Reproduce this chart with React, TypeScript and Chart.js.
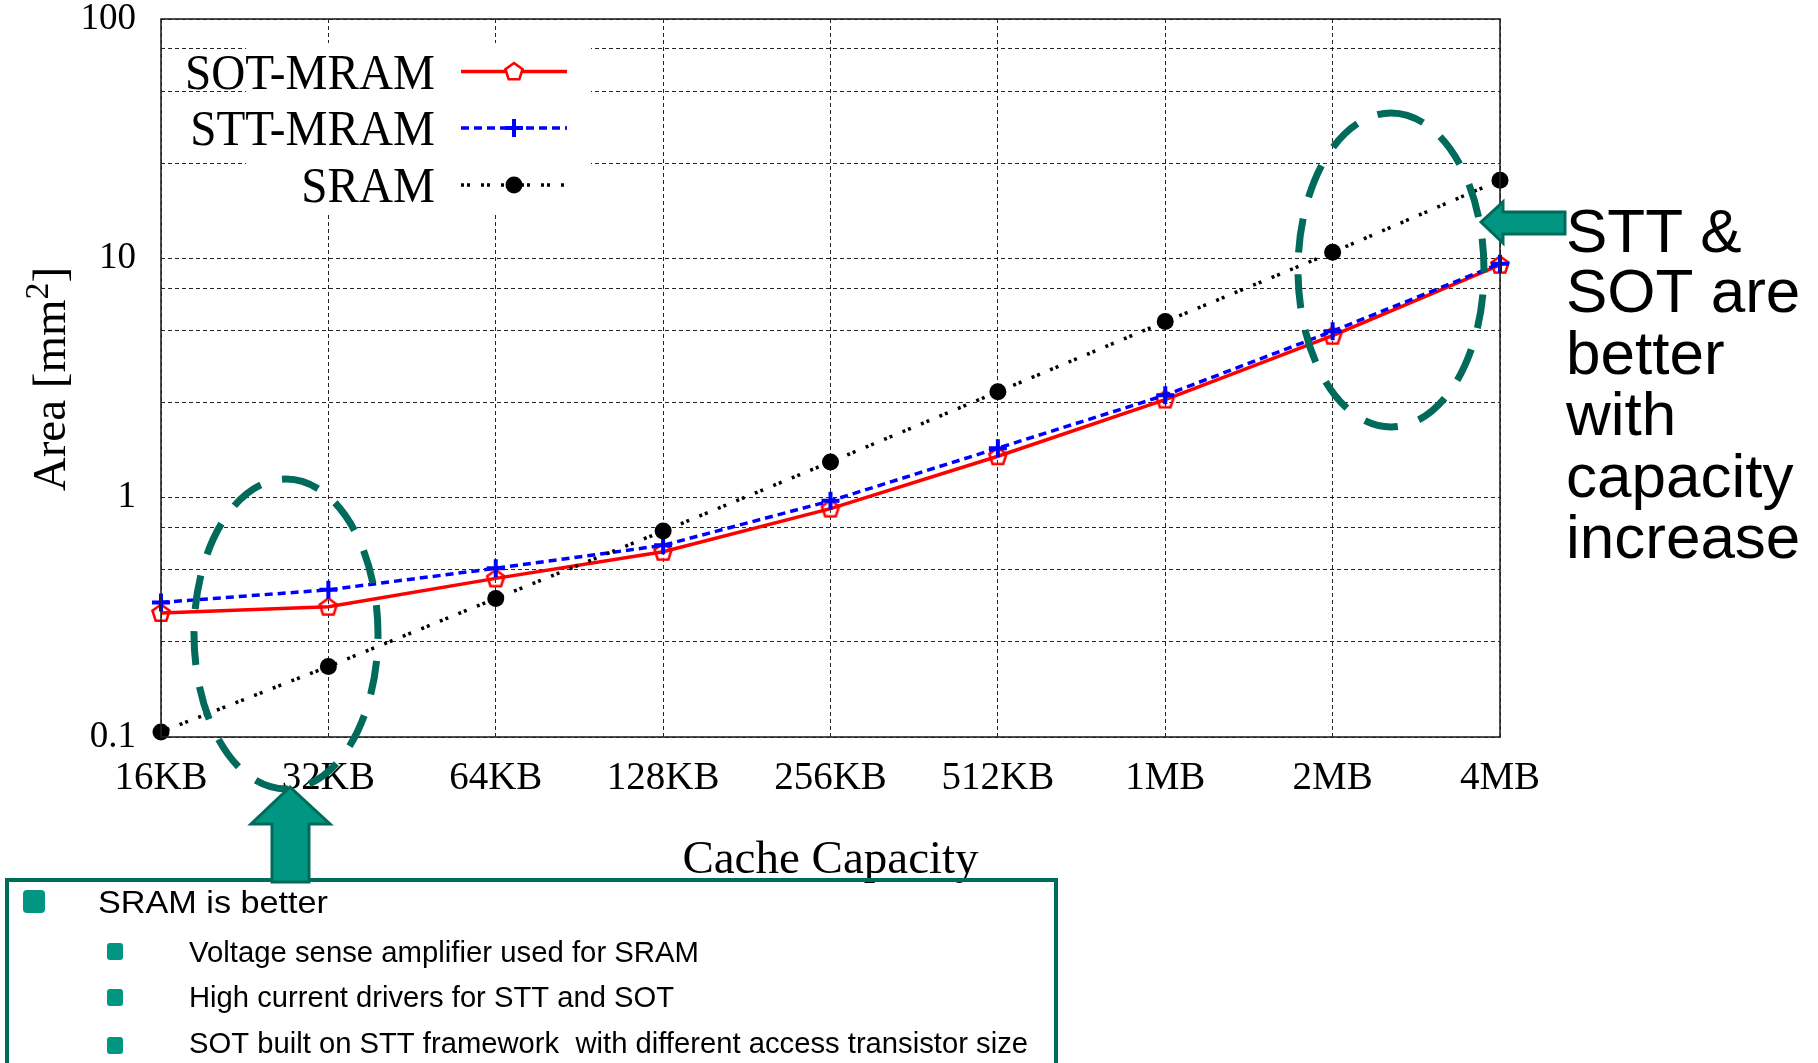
import React, { useEffect, useRef } from 'react';
import { Chart, registerables } from 'chart.js';

Chart.register(...registerables);

// ---------------- data ----------------
const categories = ['16KB', '32KB', '64KB', '128KB', '256KB', '512KB', '1MB', '2MB', '4MB'];
const sotMram = [0.33, 0.35, 0.46, 0.594, 0.9, 1.49, 2.57, 4.75, 9.4];
const sttMram = [0.365, 0.412, 0.507, 0.632, 0.97, 1.61, 2.68, 4.96, 9.5];
const sram = [0.105, 0.197, 0.379, 0.725, 1.41, 2.77, 5.44, 10.6, 21.2];
const yTickValues = [0.1, 0.25, 0.5, 0.75, 1, 2.5, 5, 7.5, 10, 25, 50, 75, 100];
const yTickLabels = [0.1, 1, 10, 100];
const seriesNames = ['SOT-MRAM', 'STT-MRAM', 'SRAM'];
const xTitle = 'Cache Capacity';
const yTitleParts = ['Area [mm', '2', ']'];
const noteLines = ['STT &', 'SOT are', 'better', 'with', 'capacity', 'increase'];
const boxMain = 'SRAM is better';
const boxSubs = [
  'Voltage sense amplifier used for SRAM',
  'High current drivers for STT and SOT',
  'SOT built on STT framework  with different access transistor size',
];

// ---------------- styles ----------------
const SERIF = "'Liberation Serif', 'DejaVu Serif', serif";
const SANS = "'Liberation Sans', Arial, sans-serif";
const TEAL_DARK = '#006B5A';
const TEAL = '#009682';
const RED = '#ff0000';
const BLUE = '#0000ff';
const GRID = 'rgba(0,0,0,0.85)';

function pentagonPath(ctx: CanvasRenderingContext2D, cx: number, cy: number, r: number) {
  ctx.beginPath();
  for (let i = 0; i < 5; i++) {
    const a = -Math.PI / 2 + (i * 2 * Math.PI) / 5;
    const px = cx + r * Math.cos(a);
    const py = cy + r * Math.sin(a);
    if (i === 0) ctx.moveTo(px, py);
    else ctx.lineTo(px, py);
  }
  ctx.closePath();
}

function makePentagonImage(): HTMLCanvasElement {
  const c = document.createElement('canvas');
  c.width = 26;
  c.height = 26;
  const g = c.getContext('2d')!;
  g.strokeStyle = RED;
  g.lineWidth = 2.6;
  g.lineJoin = 'miter';
  pentagonPath(g, 13, 13.5, 9);
  g.stroke();
  return c;
}

function fitText(
  ctx: CanvasRenderingContext2D,
  text: string,
  x: number,
  y: number,
  font: string,
  width: number,
  align: CanvasTextAlign = 'left'
) {
  ctx.save();
  ctx.font = font;
  const w = ctx.measureText(text).width;
  const s = width / w;
  ctx.translate(x, y);
  ctx.scale(s, 1);
  ctx.textAlign = align;
  ctx.textBaseline = 'alphabetic';
  ctx.fillText(text, 0, 0);
  ctx.restore();
}

function roundRect(ctx: CanvasRenderingContext2D, x: number, y: number, w: number, h: number, r: number) {
  ctx.beginPath();
  ctx.moveTo(x + r, y);
  ctx.lineTo(x + w - r, y);
  ctx.quadraticCurveTo(x + w, y, x + w, y + r);
  ctx.lineTo(x + w, y + h - r);
  ctx.quadraticCurveTo(x + w, y + h, x + w - r, y + h);
  ctx.lineTo(x + r, y + h);
  ctx.quadraticCurveTo(x, y + h, x, y + h - r);
  ctx.lineTo(x, y + r);
  ctx.quadraticCurveTo(x, y, x + r, y);
  ctx.closePath();
}

const annotationPlugin = {
  id: 'annotations',
  beforeDatasetsDraw(chart: any) {
    const { ctx, chartArea: a } = chart;
    ctx.save();
    // opaque key box
    ctx.fillStyle = '#ffffff';
    ctx.fillRect(a.left + 85, a.top + 24, 345, 170);

    // key entries
    const textRight = a.left + 274;
    const rows = [a.top + 52.5, a.top + 109, a.top + 166];
    const x1 = a.left + 300;
    const x2 = a.left + 406;
    const xm = a.left + 353;
    ctx.fillStyle = '#000';
    ctx.font = `50px ${SERIF}`;
    const scale = 250 / ctx.measureText(seriesNames[0]).width;
    seriesNames.forEach((name, i) => {
      ctx.save();
      ctx.translate(textRight, rows[i] + 17);
      ctx.scale(scale, 1);
      ctx.textAlign = 'right';
      ctx.textBaseline = 'alphabetic';
      ctx.fillText(name, 0, 0);
      ctx.restore();
    });
    // SOT sample
    ctx.strokeStyle = RED;
    ctx.lineWidth = 3.5;
    ctx.setLineDash([]);
    ctx.beginPath();
    ctx.moveTo(x1, rows[0]);
    ctx.lineTo(x2, rows[0]);
    ctx.stroke();
    ctx.fillStyle = '#fff';
    pentagonPath(ctx, xm, rows[0] + 0.5, 9);
    ctx.fill();
    ctx.lineWidth = 2.6;
    ctx.stroke();
    // STT sample
    ctx.strokeStyle = BLUE;
    ctx.lineWidth = 3.5;
    ctx.setLineDash([8, 5]);
    ctx.beginPath();
    ctx.moveTo(x1, rows[1]);
    ctx.lineTo(x2, rows[1]);
    ctx.stroke();
    ctx.setLineDash([]);
    ctx.lineWidth = 4;
    ctx.beginPath();
    ctx.moveTo(xm - 9, rows[1]);
    ctx.lineTo(xm + 9, rows[1]);
    ctx.moveTo(xm, rows[1] - 9);
    ctx.lineTo(xm, rows[1] + 9);
    ctx.stroke();
    // SRAM sample
    ctx.strokeStyle = '#000';
    ctx.lineWidth = 3.5;
    ctx.setLineDash([3, 3, 3, 11]);
    ctx.beginPath();
    ctx.moveTo(x1, rows[2]);
    ctx.lineTo(x2, rows[2]);
    ctx.stroke();
    ctx.setLineDash([]);
    ctx.fillStyle = '#000';
    ctx.beginPath();
    ctx.arc(xm, rows[2], 8.5, 0, Math.PI * 2);
    ctx.fill();
    ctx.restore();
  },
  afterDatasetsDraw(chart: any) {
    const { ctx, chartArea: a } = chart;
    ctx.save();
    ctx.strokeStyle = '#222';
    ctx.lineWidth = 1.6;
    ctx.setLineDash([]);
    ctx.strokeRect(a.left, a.top, a.right - a.left, a.bottom - a.top);

    // axis titles
    ctx.fillStyle = '#000';
    ctx.font = `47px ${SERIF}`;
    ctx.textAlign = 'center';
    ctx.textBaseline = 'alphabetic';
    ctx.fillText(xTitle, (a.left + a.right) / 2, a.bottom + 136);

    // rotated y title with superscript
    ctx.save();
    ctx.translate(65, (a.top + a.bottom) / 2 + 1);
    ctx.rotate(-Math.PI / 2);
    ctx.textAlign = 'left';
    const big = `47px ${SERIF}`;
    const small = `34px ${SERIF}`;
    ctx.font = big;
    const w0 = ctx.measureText(yTitleParts[0]).width;
    const w2 = ctx.measureText(yTitleParts[2]).width;
    ctx.font = small;
    const w1 = ctx.measureText(yTitleParts[1]).width;
    let x = -(w0 + w1 + w2) / 2;
    ctx.font = big;
    ctx.fillText(yTitleParts[0], x, 0);
    x += w0;
    ctx.font = small;
    ctx.fillText(yTitleParts[1], x, -17);
    x += w1;
    ctx.font = big;
    ctx.fillText(yTitleParts[2], x, 0);
    ctx.restore();
    ctx.restore();
  },
  afterDraw(chart: any) {
    const { ctx } = chart;
    ctx.save();

    // dashed ellipses
    ctx.strokeStyle = TEAL_DARK;
    ctx.lineWidth = 7;
    ctx.setLineDash([34, 22]);
    ctx.beginPath();
    ctx.ellipse(286, 634, 92, 155, 0, -Math.PI / 2, Math.PI * 1.5);
    ctx.stroke();
    ctx.beginPath();
    ctx.ellipse(1391, 270, 93, 157, 0, -Math.PI / 2, Math.PI * 1.5);
    ctx.stroke();
    ctx.setLineDash([]);

    // bottom box
    ctx.strokeStyle = TEAL_DARK;
    ctx.lineWidth = 4;
    ctx.strokeRect(7, 880, 1049, 200);

    // arrows
    ctx.fillStyle = TEAL;
    ctx.strokeStyle = TEAL_DARK;
    ctx.lineWidth = 3;
    ctx.lineJoin = 'miter';
    // left-pointing arrow
    ctx.beginPath();
    ctx.moveTo(1481, 222);
    ctx.lineTo(1503, 202);
    ctx.lineTo(1503, 212);
    ctx.lineTo(1565, 212);
    ctx.lineTo(1565, 234);
    ctx.lineTo(1503, 234);
    ctx.lineTo(1503, 243);
    ctx.closePath();
    ctx.fill();
    ctx.stroke();
    // up-pointing arrow
    ctx.beginPath();
    ctx.moveTo(290, 787);
    ctx.lineTo(330, 824);
    ctx.lineTo(309, 824);
    ctx.lineTo(309, 882);
    ctx.lineTo(272, 882);
    ctx.lineTo(272, 824);
    ctx.lineTo(251, 824);
    ctx.closePath();
    ctx.fill();
    ctx.stroke();

    // right note text
    ctx.fillStyle = '#000';
    ctx.font = `62px ${SANS}`;
    ctx.textAlign = 'left';
    ctx.textBaseline = 'alphabetic';
    const noteBaselines = [252, 312, 374, 435, 497, 558];
    noteLines.forEach((t, i) => ctx.fillText(t, 1566, noteBaselines[i]));

    // bullets
    ctx.fillStyle = TEAL;
    roundRect(ctx, 23, 890, 22, 23, 4);
    ctx.fill();
    const subBulletY = [943, 989, 1037];
    subBulletY.forEach((y) => {
      roundRect(ctx, 107, y, 16, 17, 3);
      ctx.fill();
    });

    ctx.fillStyle = '#000';
    fitText(ctx, boxMain, 98, 913, `32px ${SANS}`, 230);
    const subBaselines = [962, 1007, 1053];
    const subWidths = [510, 485, 839];
    boxSubs.forEach((t, i) => fitText(ctx, t, 189, subBaselines[i], `29px ${SANS}`, subWidths[i]));

    ctx.restore();
  },
};

export default function App() {
  const canvasRef = useRef<HTMLCanvasElement | null>(null);

  useEffect(() => {
    const canvas = canvasRef.current;
    if (!canvas) return;
    const pent = makePentagonImage();

    const chart = new Chart(canvas, {
      type: 'line',
      data: {
        labels: categories,
        datasets: [
          {
            label: seriesNames[0],
            data: sotMram,
            borderColor: RED,
            borderWidth: 3.5,
            pointStyle: pent as any,
            pointRadius: 9,
            backgroundColor: RED,
            tension: 0,
            clip: false as any,
            order: 3,
          },
          {
            label: seriesNames[1],
            data: sttMram,
            borderColor: BLUE,
            borderWidth: 3.5,
            borderDash: [8, 5],
            pointStyle: 'cross',
            pointRadius: 9,
            pointBorderWidth: 4,
            pointBorderColor: BLUE,
            backgroundColor: BLUE,
            tension: 0,
            clip: false as any,
            order: 2,
          },
          {
            label: seriesNames[2],
            data: sram,
            borderColor: '#000',
            borderWidth: 3.5,
            borderDash: [3, 3, 3, 11],
            pointStyle: 'circle',
            pointRadius: 8.5,
            pointBorderWidth: 0,
            pointBackgroundColor: '#000',
            backgroundColor: '#000',
            tension: 0,
            clip: false as any,
            order: 1,
          },
        ],
      },
      options: {
        responsive: false,
        animation: false,
        events: [],
        layout: { padding: { top: 19, right: 318, left: 0, bottom: 0 } },
        plugins: {
          legend: { display: false },
          tooltip: { enabled: false },
        },
        scales: {
          x: {
            type: 'category',
            offset: false,
            grid: { color: GRID, lineWidth: 1, drawTicks: false, offset: false },
            border: { display: false, dash: [4, 3] },
            ticks: {
              font: { family: SERIF, size: 39 },
              color: '#000',
              padding: 18,
              autoSkip: false,
              maxRotation: 0,
            },
            afterFit: (s: any) => {
              s.height = 326;
              s.paddingLeft = 0;
              s.paddingRight = 0;
              s.paddingTop = 0;
              s.paddingBottom = 0;
            },
          },
          y: {
            type: 'logarithmic',
            min: 0.1,
            max: 100,
            grid: { color: GRID, lineWidth: 1, drawTicks: false },
            border: { display: false, dash: [4, 3] },
            ticks: {
              font: { family: SERIF, size: 37 },
              color: '#000',
              padding: 25,
              autoSkip: false,
              callback: (v: any) => (yTickLabels.includes(Number(v)) ? String(v) : ''),
            },
            afterBuildTicks: (s: any) => {
              s.ticks = yTickValues.map((v) => ({ value: v }));
            },
            afterFit: (s: any) => {
              s.width = 161;
              s.paddingLeft = 0;
              s.paddingRight = 0;
              s.paddingTop = 0;
              s.paddingBottom = 0;
            },
          },
        },
      },
      plugins: [annotationPlugin],
    });

    return () => chart.destroy();
  }, []);

  return (
    <div style={{ position: 'absolute', left: 0, top: 0, width: 1818, height: 1063, background: '#fff' }}>
      <canvas ref={canvasRef} width={1818} height={1063} style={{ display: 'block' }} />
    </div>
  );
}
